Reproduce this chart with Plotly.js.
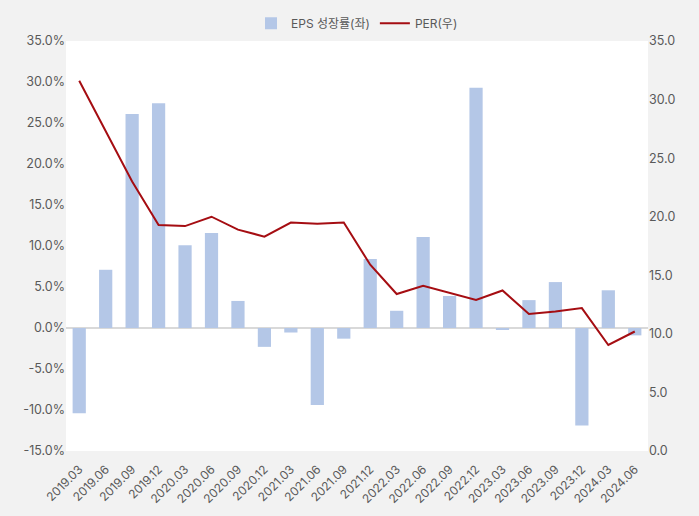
<!DOCTYPE html>
<html>
<head>
<meta charset="utf-8">
<script src="https://cdn.plot.ly/plotly-3.0.1.min.js"></script>
<style>
  html, body { margin: 0; padding: 0; background: #f2f2f2; }
  #chart { width: 699px; height: 516px; }
</style>
</head>
<body>
<div id="chart"></div>
<script>
/** quarters on the x axis **/
let quarters = ["2019.03", "2019.06", "2019.09", "2019.12", "2020.03", "2020.06", "2020.09", "2020.12",
    "2021.03", "2021.06", "2021.09", "2021.12", "2022.03", "2022.06", "2022.09", "2022.12",
    "2023.03", "2023.06", "2023.09", "2023.12", "2024.03", "2024.06"];

// EPS growth (%), left axis
let epsGrowth = [-10.4, 7.1, 26.1, 27.4, 10.1, 11.6, 3.3, -2.3,
    -0.55, -9.4, -1.3, 8.4, 2.1, 11.1, 3.9, 29.3,
    -0.2, 3.4, 5.6, -11.9, 4.6, -0.9];

// PER, right axis
let per = [31.6, 27.3, 23.0, 19.3, 19.2, 20.0, 18.9, 18.3,
    19.5, 19.4, 19.5, 15.9, 13.4, 14.1, 13.5, 12.9,
    13.7, 11.7, 11.9, 12.2, 9.05, 10.2];

let leftTicks = [-15, -10, -5, 0, 5, 10, 15, 20, 25, 30, 35];
let rightTicks = [0, 5, 10, 15, 20, 25, 30, 35];

let fontFamily = "Inter, 'Noto Sans CJK KR', sans-serif";

let trace_eps = {
    x: quarters,
    y: epsGrowth,
    type: "bar",
    name: "EPS 성장률(좌)",
    marker: {color: "#b4c7e7"},
    width: 0.5,
    yaxis: "y"
};

let trace_per = {
    x: quarters,
    y: per,
    type: "scatter",
    mode: "lines",
    name: "PER(우)",
    line: {color: "#a50d12", width: 2},
    yaxis: "y2"
};

let layout = {
    width: 699,
    height: 516,
    paper_bgcolor: "#f2f2f2",
    plot_bgcolor: "#ffffff",
    margin: {l: 66, r: 51, t: 41, b: 65},
    font: {family: fontFamily, size: 12, color: "#595959"},
    showlegend: true,
    legend: {
        orientation: "h",
        x: 0.5, xanchor: "center",
        yref: "container",
        y: 0.983, yanchor: "top",
        font: {size: 12, color: "#595959"},
        bgcolor: "rgba(0,0,0,0)"
    },
    bargap: 0.5,
    xaxis: {
        type: "category",
        tickangle: -45,
        showgrid: false,
        zeroline: false,
        showline: false,
        ticks: "",
        ticklabelstandoff: 8,
        automargin: false,
        tickfont: {size: 12, color: "#595959"}
    },
    yaxis: {
        range: [-15, 35],
        tickvals: leftTicks,
        ticktext: leftTicks.map(v => v.toFixed(1) + "%"),
        showgrid: false,
        zeroline: true,
        zerolinecolor: "#d9d9d9",
        zerolinewidth: 1.5,
        showline: false,
        ticks: "",
        automargin: false,
        tickfont: {size: 12.5, color: "#595959"}
    },
    yaxis2: {
        overlaying: "y",
        side: "right",
        range: [0, 35],
        tickvals: rightTicks,
        ticktext: rightTicks.map(v => v.toFixed(1)),
        showgrid: false,
        zeroline: false,
        showline: false,
        ticks: "",
        automargin: false,
        tickfont: {size: 12.5, color: "#595959"}
    }
};

Plotly.newPlot("chart", [trace_eps, trace_per], layout, {displayModeBar: false});
</script>
</body>
</html>
